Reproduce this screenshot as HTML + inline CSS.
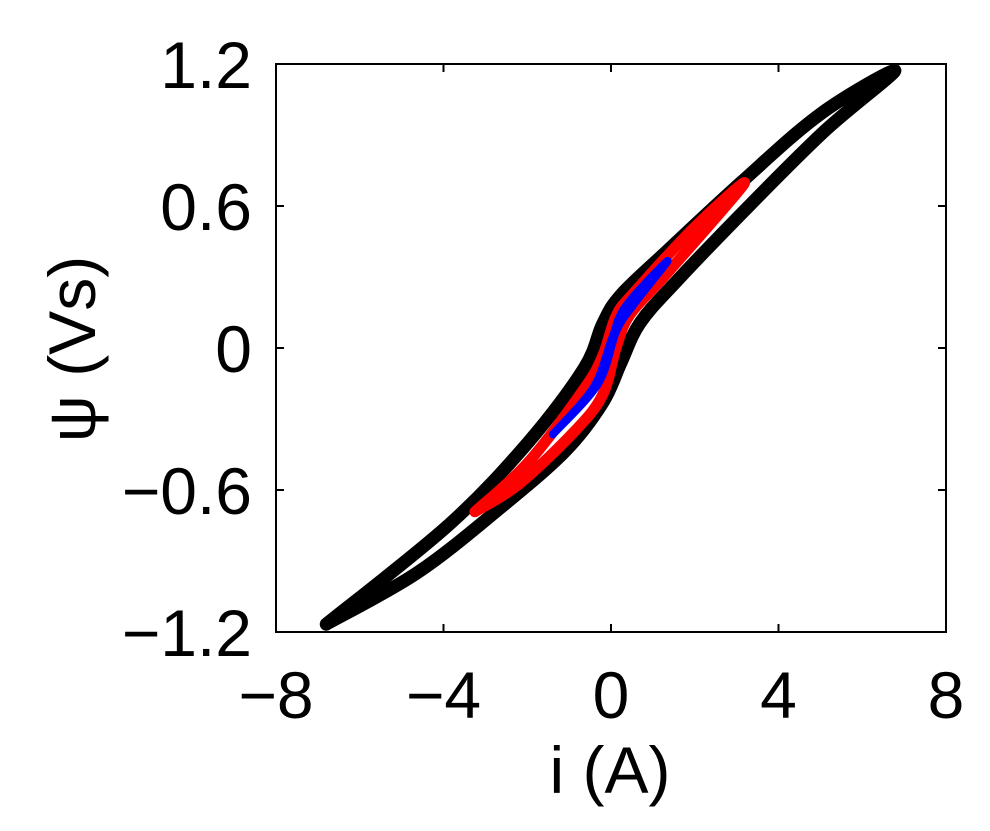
<!DOCTYPE html>
<html><head><meta charset="utf-8"><style>
html,body{margin:0;padding:0;background:#fff;}
svg{display:block;font-family:"Liberation Sans",Arial,sans-serif;}
</style></head><body>
<svg id="chart" width="990" height="831"></svg>
<script>
const xTicks=[-8,-4,0,4,8];
const yTicks=[-1.2,-0.6,0,0.6,1.2];
const xTickLabels=["\u22128","\u22124","0","4","8"];
const yTickLabels=["\u22121.2","\u22120.6","0","0.6","1.2"];
const blackI=[-6.8,-4.63,-2.64,-1.09,-0.2,0.24,0.69,1.57,3.35,5.12,6.78,5.01,3.12,1.35,0.24,-0.2,-0.64,-1.97,-3.86,-6.8];
const blackPsi=[-1.167,-0.95,-0.675,-0.435,-0.232,-0.062,0.105,0.283,0.61,0.92,1.172,0.99,0.702,0.412,0.225,0.102,-0.085,-0.397,-0.745,-1.167];
const redI=[-3.25,-2.2,-0.87,-0.2,0.13,0.46,1.35,3.18,2.02,0.58,0.13,-0.2,-0.64,-1.97,-3.25];
const redPsi=[-0.692,-0.575,-0.352,-0.198,0.006,0.143,0.318,0.694,0.515,0.24,0.138,-0.034,-0.172,-0.482,-0.692];
const blueI=[-1.39,-0.31,0.13,0.58,1.35,0.35,0.02,-0.42,-1.39];
const bluePsi=[-0.365,-0.151,0.073,0.193,0.368,0.176,0.038,-0.168,-0.365];

const L=276,R=946,T=64,B=632;
const xs=v=>L+(v+8)/16*(R-L);
const ys=v=>B-(v+1.2)/2.4*(B-T);
const svg=document.getElementById('chart');
const NS='http://www.w3.org/2000/svg';
function mk(tag,attrs,parent){const e=document.createElementNS(NS,tag);for(const k in attrs)e.setAttribute(k,attrs[k]);(parent||svg).appendChild(e);return e;}

const frame=mk('rect',{x:L,y:T,width:R-L,height:B-T,fill:'#fff',stroke:'#000','stroke-width':2});



function smoothPath(xa,ya){
  const p=xa.map((x,i)=>[xs(x),ys(ya[i])]);
  let d='M'+p[0][0]+','+p[0][1];
  for(let i=0;i<p.length-1;i++){
    const p0=p[Math.max(0,i-1)],p1=p[i],p2=p[i+1],p3=p[Math.min(p.length-1,i+2)];
    const c1=[p1[0]+(p2[0]-p0[0])/6,p1[1]+(p2[1]-p0[1])/6];
    const c2=[p2[0]-(p3[0]-p1[0])/6,p2[1]-(p3[1]-p1[1])/6];
    d+=' C'+c1[0]+','+c1[1]+' '+c2[0]+','+c2[1]+' '+p2[0]+','+p2[1];
  }
  return d;
}
const gB=mk('path',{d:smoothPath(blackI,blackPsi),fill:'none',stroke:'#000','stroke-width':13,'stroke-linejoin':'round','stroke-linecap':'round'});


const gR=mk('path',{d:smoothPath(redI,redPsi),fill:'none',stroke:'#ff0000','stroke-width':11,'stroke-linejoin':'round','stroke-linecap':'round'});


const gBl=mk('path',{d:smoothPath(blueI,bluePsi),fill:'none',stroke:'#0000ff','stroke-width':8,'stroke-linejoin':'round','stroke-linecap':'round'});



xTicks.forEach((v,i)=>{
  const x=xs(v);
  const t1=mk('line',{x1:x,y1:B,x2:x,y2:B-8,stroke:'#000','stroke-width':2});
  
  
  const t2=mk('line',{x1:x,y1:T,x2:x,y2:T+8,stroke:'#000','stroke-width':2});
  
  
  const tx=mk('text',{x:x,y:718,'font-size':66,'text-anchor':'middle',fill:'#000'});
  tx.textContent=xTickLabels[i];
  
  
});
yTicks.forEach((v,i)=>{
  const y=ys(v);
  const t1=mk('line',{x1:L,y1:y,x2:L+8,y2:y,stroke:'#000','stroke-width':2});
  
  
  const t2=mk('line',{x1:R,y1:y,x2:R-8,y2:y,stroke:'#000','stroke-width':2});
  
  
  const tx=mk('text',{x:252,y:y+24,'font-size':66,'text-anchor':'end',fill:'#000'});
  tx.textContent=yTickLabels[i];
  
  
});
const xl=mk('text',{x:610,y:793,'font-size':66,'text-anchor':'middle',fill:'#000'});
xl.textContent='i (A)';


const yl=mk('text',{x:0,y:0,'font-size':66,'text-anchor':'middle',fill:'#000',transform:'translate(95,349) rotate(-90)'});
yl.textContent='\u03c8 (Vs)';


</script>
</body></html>
